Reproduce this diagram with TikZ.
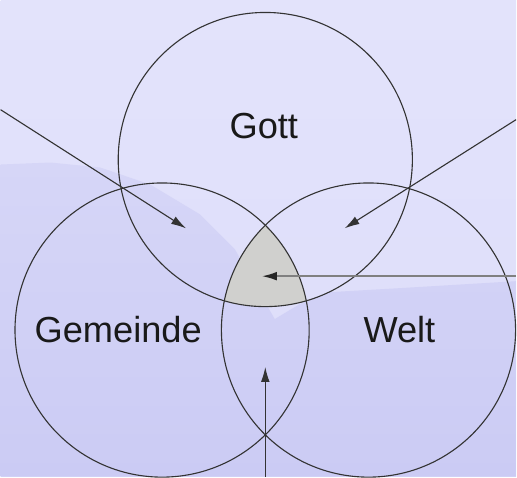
\documentclass[tikz,border=0pt]{standalone}
\usepackage{fontspec}
\setmainfont{Liberation Sans}
\usepackage{xcolor}
\usetikzlibrary{arrows.meta,positioning}
\definecolor{skytop}{RGB}{227,227,251}
\definecolor{skylow}{RGB}{221,221,250}
\definecolor{hilltop}{RGB}{214,214,247}
\definecolor{hilllow}{RGB}{203,203,244}
\definecolor{core}{RGB}{208,208,206}

\begin{document}
\begin{tikzpicture}[x=0.03cm,y=0.03cm,>={Latex[length=4.5mm,width=2.6mm]},
  ring/.style={draw=black!80,line width=0.95pt,circle,minimum size=8.85cm,inner sep=0pt},
  word/.style={font=\fontsize{31}{31}\selectfont,text=black!90,inner sep=0pt,anchor=base},
  ptr/.style={->,line width=0.95pt,draw=black!80},
  ptrgray/.style={-{Latex[length=4.5mm,width=2.6mm,color=black!85]},line width=1.6pt,draw=black!50}]
% background scene
\shade[top color=skytop,bottom color=skylow] (0,0) rectangle (517,478);
\shade[top color=hilltop,bottom color=hilllow] (0,313) -- (50,315) -- (100,310) -- (150,293) -- (200,263) -- (235,228)
  -- (255,193) -- (275,158) -- (300,173) -- (330,185) -- (400,189) -- (517,196)
  -- (517,0) -- (0,0) -- cycle;
% centres
\coordinate (cg) at (265.5,318);
\coordinate (cl) at (162,147);
\coordinate (cw) at (369,147);
% common part
\begin{scope}
  \clip (cg) circle (147.5);
  \clip (cl) circle (147.5);
  \fill[core] (cw) circle (147.5);
\end{scope}
\node[ring] (gott) at (cg) {};
\node[ring] (gemeinde) at (cl) {};
\node[ring] (welt) at (cw) {};
\node[word] (tgott) at (264,339) {Gott};
\node[word] (tgemeinde) at (118,135) {Gemeinde};
\node[word] (twelt) at (400,135) {Welt};
% pointers
\coordinate (p1) at (0,368);   \coordinate (q1) at (186,249);
\coordinate (p2) at (517,358); \coordinate (q2) at (345,249);
\coordinate (p3) at (517,201); \coordinate (q3) at (262,201);
\coordinate (p4) at (265.5,0); \coordinate (q4) at (265.5,110);
\draw[ptr] (p1) -- (q1);
\draw[ptr] (p2) -- (q2);
\draw[ptrgray] (p3) -- (q3);
\draw[ptr] (p4) -- (q4);
\end{tikzpicture}
\end{document}
